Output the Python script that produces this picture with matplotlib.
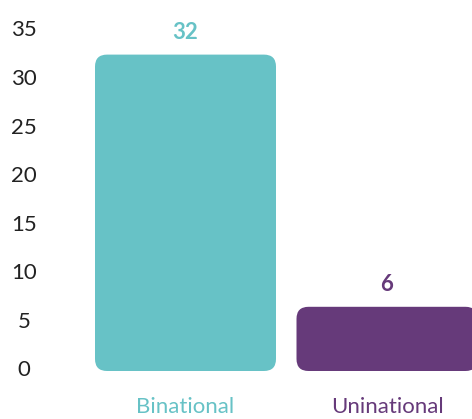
import matplotlib
matplotlib.use("Agg")
import matplotlib.pyplot as plt
from matplotlib.patches import FancyBboxPatch

categories = ["Binational", "Uninational"]
values = [32, 6]
colors = ["#67C2C6", "#663A7A"]
yticks = [0, 5, 10, 15, 20, 25, 30, 35]

plt.rcParams['font.family'] = ['Lato', 'DejaVu Sans']

W, H = 472, 419
dpi = 100
fig = plt.figure(figsize=(W / dpi, H / dpi), dpi=dpi)

# axes geometry in pixels
ax_left, ax_right, ax_top, ax_bottom = 50, 472, 0, 380
ax = fig.add_axes([ax_left / W, (H - ax_bottom) / H,
                   (ax_right - ax_left) / W, (ax_bottom - ax_top) / H])

px_per_x = 201.5
px_per_y = 9.7
x0_px = 185.5
y0_px = 368.0
ax.set_xlim((ax_left - x0_px) / px_per_x, (ax_right - x0_px) / px_per_x)
ax.set_ylim((y0_px - ax_bottom) / px_per_y, (y0_px - ax_top) / px_per_y)

pad_px = 3
round_px = 12
bar_w = (181 - 2 * pad_px) / px_per_x
xs = list(range(len(categories)))
bars = ax.bar(xs, values, width=bar_w, color=colors)

aspect = px_per_x / px_per_y
for b, c in zip(bars, colors):
    b.set_visible(False)
    p = FancyBboxPatch((b.get_x(), b.get_y()), b.get_width(), b.get_height(),
                       boxstyle=f"round,pad={pad_px / px_per_x},rounding_size={round_px / px_per_x}",
                       mutation_aspect=aspect, facecolor=c, edgecolor='none')
    ax.add_patch(p)

for x, v, c in zip(xs, values, colors):
    ax.annotate(str(v), (x, v), xytext=(0, 18), textcoords='offset points',
                ha='center', va='center', fontsize=16, fontweight='bold', color=c)

ax.set_yticks(yticks)
ax.set_yticklabels([str(t) for t in yticks], fontsize=16, color='#222222', ha='center')
ax.tick_params(axis='y', length=0, pad=18.7)

ax.set_xticks(xs)
ax.set_xticklabels(categories, fontsize=16)
for lbl, c in zip(ax.get_xticklabels(), colors):
    lbl.set_color(c)
ax.tick_params(axis='x', length=0, pad=12)

for s in ax.spines.values():
    s.set_visible(False)

fig.savefig("out.png", dpi=dpi)
